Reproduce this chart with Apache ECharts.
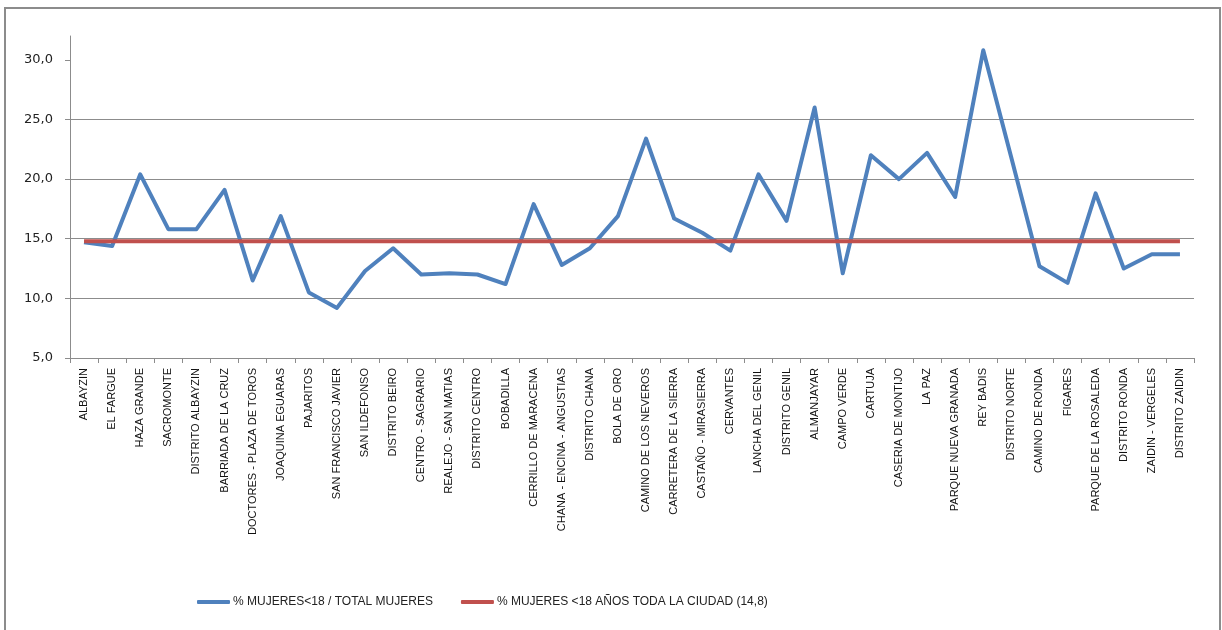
<!DOCTYPE html>
<html>
<head>
<meta charset="utf-8">
<script src="https://cdn.jsdelivr.net/npm/echarts@6/dist/echarts.min.js"></script>
<style>
  html, body { margin: 0; padding: 0; background: #fff; }
  #chart { width: 1222px; height: 630px; }
</style>
</head>
<body>
<div id="chart"></div>
<script>
var barrios = [
  'ALBAYZIN', 'EL FARGUE', 'HAZA GRANDE', 'SACROMONTE', 'DISTRITO ALBAYZIN',
  'BARRIADA DE LA CRUZ', 'DOCTORES - PLAZA DE TOROS', 'JOAQUINA EGUARAS', 'PAJARITOS', 'SAN FRANCISCO JAVIER',
  'SAN ILDEFONSO', 'DISTRITO BEIRO', 'CENTRO - SAGRARIO', 'REALEJO - SAN MATIAS', 'DISTRITO CENTRO',
  'BOBADILLA', 'CERRILLO DE MARACENA', 'CHANA - ENCINA - ANGUSTIAS', 'DISTRITO CHANA', 'BOLA DE ORO',
  'CAMINO DE LOS NEVEROS', 'CARRETERA DE LA SIERRA', 'CASTAÑO - MIRASIERRA', 'CERVANTES', 'LANCHA DEL GENIL',
  'DISTRITO GENIL', 'ALMANJAYAR', 'CAMPO VERDE', 'CARTUJA', 'CASERIA DE MONTIJO',
  'LA PAZ', 'PARQUE NUEVA GRANADA', 'REY BADIS', 'DISTRITO NORTE', 'CAMINO DE RONDA',
  'FIGARES', 'PARQUE DE LA ROSALEDA', 'DISTRITO RONDA', 'ZAIDIN - VERGELES', 'DISTRITO ZAIDIN'
]

// % mujeres < 18 sobre total mujeres, por barrio
var pctMujeres = [
  14.7, 14.4, 20.4, 15.8, 15.8,
  19.1, 11.5, 16.9, 10.5, 9.2,
  12.3, 14.2, 12.0, 12.1, 12.0,
  11.2, 17.9, 12.8, 14.2, 16.9,
  23.4, 16.7, 15.5, 14.0, 20.4,
  16.5, 26.0, 12.1, 22.0, 20.0,
  22.2, 18.5, 30.8, 21.8, 12.7,
  11.3, 18.8, 12.5, 13.7, 13.7
]

// media de toda la ciudad
var mediaCiudad = [
  14.8, 14.8, 14.8, 14.8, 14.8, 14.8, 14.8, 14.8, 14.8, 14.8,
  14.8, 14.8, 14.8, 14.8, 14.8, 14.8, 14.8, 14.8, 14.8, 14.8,
  14.8, 14.8, 14.8, 14.8, 14.8, 14.8, 14.8, 14.8, 14.8, 14.8,
  14.8, 14.8, 14.8, 14.8, 14.8, 14.8, 14.8, 14.8, 14.8, 14.8
]

var nombres = ['% MUJERES<18 / TOTAL MUJERES', '% MUJERES <18 AÑOS TODA LA CIUDAD (14,8)']
var yTicks = [5, 10, 15, 20, 25, 30]

var chart = echarts.init(document.getElementById('chart'))

var option = {
  animation: false,
  backgroundColor: '#fff',
  graphic: [
    {
      type: 'rect',
      shape: { x: 5, y: 8, width: 1215, height: 700 },
      style: { fill: 'none', stroke: '#8c8c8c', lineWidth: 2 },
      silent: true
    }
  ],
  grid: {
    left: 70,
    right: 28,
    top: 36,
    bottom: 272
  },
  legend: {
    left: 192,
    top: 591,
    itemWidth: 33,
    itemHeight: 4,
    itemGap: 28,
    textStyle: {
      fontFamily: 'Liberation Sans Narrow, Liberation Sans, Arial',
      fontSize: 12,
      color: '#222',
      padding: [0, 0, 0, -2]
    },
    data: [
      { name: nombres[0], icon: 'roundRect' },
      { name: nombres[1], icon: 'roundRect' }
    ]
  },
  xAxis: {
    type: 'category',
    data: barrios,
    boundaryGap: true,
    axisLine: { lineStyle: { color: '#8c8c8c', width: 1 } },
    axisTick: { show: true, inside: false, length: 5, lineStyle: { color: '#8c8c8c' } },
    axisLabel: {
      interval: 0,
      rotate: 90,
      margin: 10,
      fontFamily: 'Liberation Sans, Arial',
      fontSize: 11,
      color: '#111'
    },
    splitLine: { show: false }
  },
  yAxis: {
    type: 'value',
    min: 5,
    max: 32,
    interval: 5,
    axisLine: { show: true, lineStyle: { color: '#8c8c8c', width: 1 } },
    axisTick: { show: true, length: 5, lineStyle: { color: '#8c8c8c' }, customValues: yTicks },
    axisLabel: {
      margin: 17,
      fontFamily: 'DejaVu Sans, Verdana',
      fontSize: 13,
      color: '#222',
      customValues: yTicks,
      formatter: function (v) { return v.toFixed(1).replace('.', ',') }
    },
    splitLine: { show: true, showMaxLine: false, lineStyle: { color: '#8c8c8c', width: 1 } }
  },
  series: [
    {
      name: nombres[0],
      type: 'line',
      data: pctMujeres,
      symbol: 'none',
      color: '#4F81BD',
      lineStyle: { width: 4, color: '#4F81BD', join: 'round' }
    },
    {
      name: nombres[1],
      type: 'line',
      data: mediaCiudad,
      symbol: 'none',
      color: '#C0504D',
      lineStyle: { width: 4, color: '#C0504D' }
    }
  ]
}

chart.setOption(option)
</script>
</body>
</html>
